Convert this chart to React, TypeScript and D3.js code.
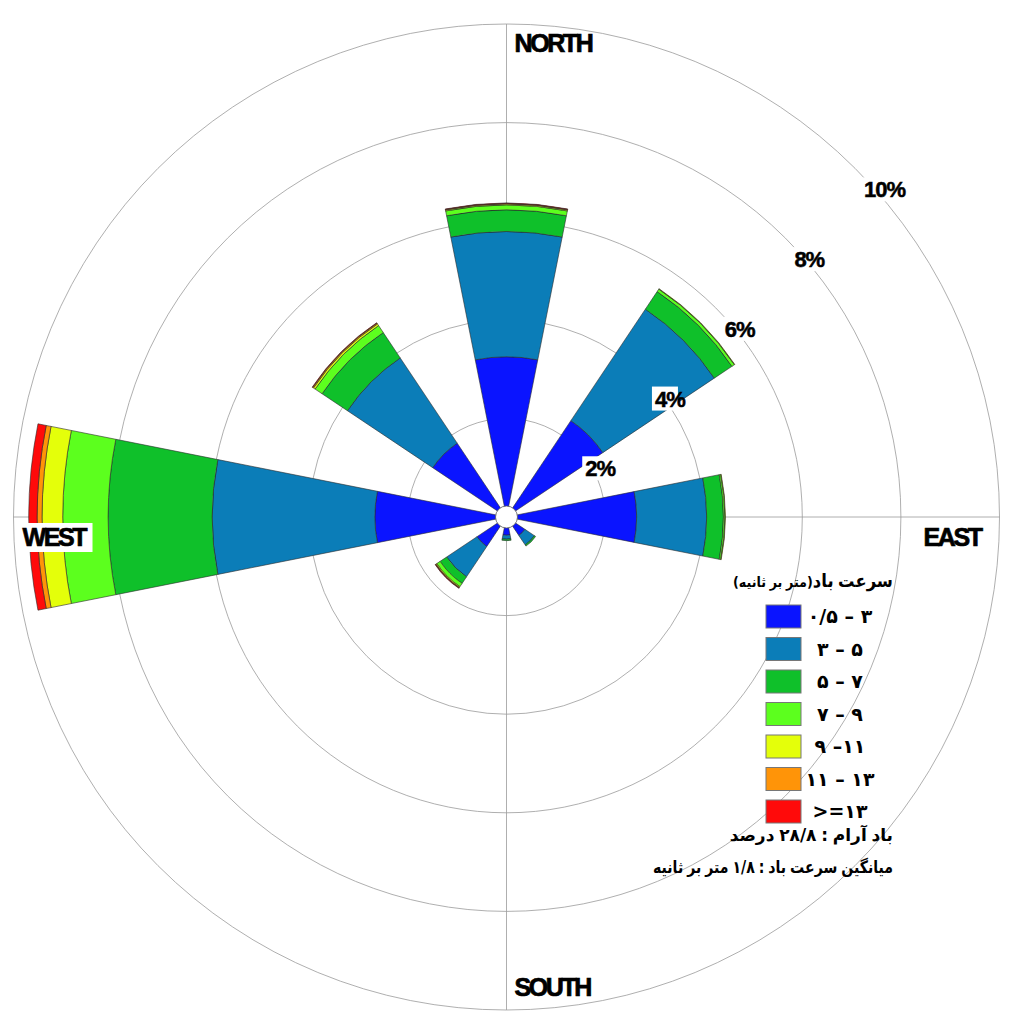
import { useLayoutEffect, useRef } from 'react';
import * as d3 from 'd3';

// wind directions (compass order, clockwise from north)
const directions = ['N', 'NE', 'E', 'SE', 'S', 'SW', 'W', 'NW'];

// frequency (%) per speed class, one value per direction
const class0_5to3 = [3.25, 2.35, 2.64, 0.45, 0.37, 0.72, 2.67, 1.8];
const class3to5 = [2.54, 2.72, 1.42, 0.23, 0.08, 0.74, 3.3, 2.08];
const class5to7 = [0.44, 0.43, 0.34, 0.03, 0.03, 0.16, 2.11, 0.62];
const class7to9 = [0.1, 0.06, 0.03, 0, 0, 0.08, 0.92, 0.17];
const class9to11 = [0.02, 0.01, 0.01, 0, 0, 0.02, 0.42, 0.04];
const class11to13 = [0.01, 0, 0, 0, 0, 0.01, 0.1, 0.02];
const class13plus = [0.01, 0, 0, 0, 0, 0.01, 0.17, 0.01];

const speedSeries = [class0_5to3, class3to5, class5to7, class7to9, class9to11, class11to13, class13plus];
const speedColors = ['#0a14ff', '#0b7db8', '#0fc02a', '#5cff1e', '#e4ff0a', '#ff9408', '#ff0a0a'];
const legendLabels = ['۰/۵ – ۳', '۳ – ۵', '۵ – ۷', '۷ – ۹', '۹ –۱۱', '۱۱ – ۱۳', '>=۱۳'];

const ringTicks = [2, 4, 6, 8, 10];

// text lines in reading (logical, right-to-left) order
const titleWords = ['سرعت', ' ', 'باد'];
const titleUnitWords = ['(', 'متر', ' ', 'بر', ' ', 'ثانیه', ')'];
const calmWords = ['باد', ' ', 'آرام', ' ', ':', ' ', '۲۸/۸', ' ', 'درصد'];
const meanWords = ['میانگین', ' ', 'سرعت', ' ', 'باد', ' ', ':', ' ', '۱/۸', ' ', 'متر', ' ', 'بر', ' ', 'ثانیه'];

const W = 1010;
const H = 1030;
const cx = 506.5;
const cy = 517;
const R = 493;
const hole = 11;

const ff = '"Liberation Sans", Arial, sans-serif';
const fa = '"DejaVu Sans", "Noto Sans", sans-serif';

type Tok = { t: string; s: number };

const mirror: Record<string, string> = { '(': ')', ')': '(' };

// places the words of a right-to-left line one by one, starting at the right edge
function RtlLine({ toks, right, y, width }: { toks: Tok[]; right: number; y: number; width: number }) {
  const ref = useRef<SVGGElement>(null);
  const visual = toks.slice().reverse().map((tk) => ({ t: mirror[tk.t] ?? tk.t, s: tk.s }));
  useLayoutEffect(() => {
    const place = () => {
      if (!ref.current) return;
      const nodes = Array.from(ref.current.querySelectorAll('text')) as SVGTextElement[];
      const widths = nodes.map((n) => n.getComputedTextLength());
      let x = 0;
      let j = 0;
      const pos: number[] = [];
      visual.forEach((tk) => {
        if (tk.t === ' ') {
          x += tk.s * 0.28;
        } else {
          pos.push(x);
          x += widths[j++];
        }
      });
      nodes.forEach((n, i) => n.setAttribute('x', String(right - x + pos[i])));
      const k = Math.min(1, width / x);
      ref.current.setAttribute('transform', `translate(${right},0) scale(${k},1) translate(${-right},0)`);
    };
    place();
    if ((document as any).fonts) (document as any).fonts.ready.then(place);
  }, [right, width]);
  return (
    <g ref={ref} fontFamily={fa} fontWeight={700} fill="#000">
      {visual
        .filter((tk) => tk.t !== ' ')
        .map((tk, i) => (
          <text key={i} x={right} y={y} fontSize={tk.s} direction="ltr">
            {tk.t}
          </text>
        ))}
    </g>
  );
}

const toks = (words: string[], s: number): Tok[] => words.map((t) => ({ t, s }));

export default function App() {
  const r = d3.scaleLinear().domain([0, 10]).range([0, R]);
  const step = (2 * Math.PI) / directions.length;
  const half = step / 4;
  const arc = d3.arc<any>();

  const petals: JSX.Element[] = [];
  directions.forEach((dir, i) => {
    const a = i * step;
    let acc = 0;
    speedSeries.forEach((series, k) => {
      const v = series[i];
      if (v <= 0) return;
      const d = arc({
        innerRadius: r(acc),
        outerRadius: r(acc + v),
        startAngle: a - half,
        endAngle: a + half,
      }) as string;
      acc += v;
      petals.push(
        <path key={`${dir}-${k}`} d={d} fill={speedColors[k]} stroke="#2a2a2a" strokeWidth={0.6} strokeLinejoin="round" />
      );
    });
  });

  const c45 = Math.SQRT1_2;

  return (
    <svg width={W} height={H} style={{ position: 'absolute', left: 0, top: 0, background: '#fff' }}>
      <rect width={W} height={H} fill="#fff" />
      {ringTicks.map((t) => (
        <circle key={t} cx={cx} cy={cy} r={r(t)} fill="none" stroke="#9a9a9a" strokeWidth={0.8} />
      ))}
      <line x1={cx} x2={cx} y1={cy - R} y2={cy + R} stroke="#9a9a9a" strokeWidth={0.8} />
      <line x1={cx - R} x2={cx + R} y1={cy} y2={cy} stroke="#9a9a9a" strokeWidth={0.8} />

      <g transform={`translate(${cx},${cy})`}>{petals}</g>
      <circle cx={cx} cy={cy} r={hole} fill="#fff" stroke="#555" strokeWidth={0.8} />

      {ringTicks.map((t) => {
        const x = cx + r(t) * c45 + 7;
        const y = cy - r(t) * c45 + 21;
        const label = `${t}%`;
        const w = label.length * 13;
        return (
          <g key={`l${t}`}>
            <rect x={x - 1} y={y - 12} width={w} height={24} fill="#fff" />
            <text
              x={x + 2}
              y={y + 8}
              fontFamily={ff}
              fontWeight={700}
              fontSize={22}
              letterSpacing={-1}
              fill="#000"
              stroke="#000"
              strokeWidth={0.5}
            >
              {label}
            </text>
          </g>
        );
      })}

      <g fontFamily={ff} fontWeight={700} fontSize={25} letterSpacing={-2.4} fill="#000" stroke="#000" strokeWidth={0.7}>
        <text x={cx + 8} y={cy - R + 28}>NORTH</text>
        <text x={cx + 8} y={cy + R - 14}>SOUTH</text>
        <rect x={cx + R - 78} y={cy + 7} width={68} height={28} fill="#fff" stroke="none" />
        <text x={cx + R - 76} y={cy + 29}>EAST</text>
        <rect x={cx - R + 5} y={cy + 6} width={74} height={29} fill="#fff" stroke="none" />
        <text x={cx - R + 9} y={cy + 29}>WEST</text>
      </g>

      <RtlLine toks={[...toks(titleWords, 18), ...toks(titleUnitWords, 14)]} right={893} y={587} width={160} />

      <g fontFamily={fa} fontWeight={700} fill="#000">
        {legendLabels.map((lab, k) => {
          const y = 605 + k * 32.5;
          return (
            <g key={lab}>
              <rect x={766} y={y} width={35} height={23} fill={speedColors[k]} stroke="#777" strokeWidth={1} />
              <text x={840} y={y + 18} fontSize={19} textAnchor="middle" direction="ltr">
                {lab}
              </text>
            </g>
          );
        })}
      </g>

      <RtlLine toks={toks(calmWords, 17)} right={893} y={841} width={174} />
      <RtlLine toks={toks(meanWords, 17)} right={893} y={873} width={240} />
    </svg>
  );
}
